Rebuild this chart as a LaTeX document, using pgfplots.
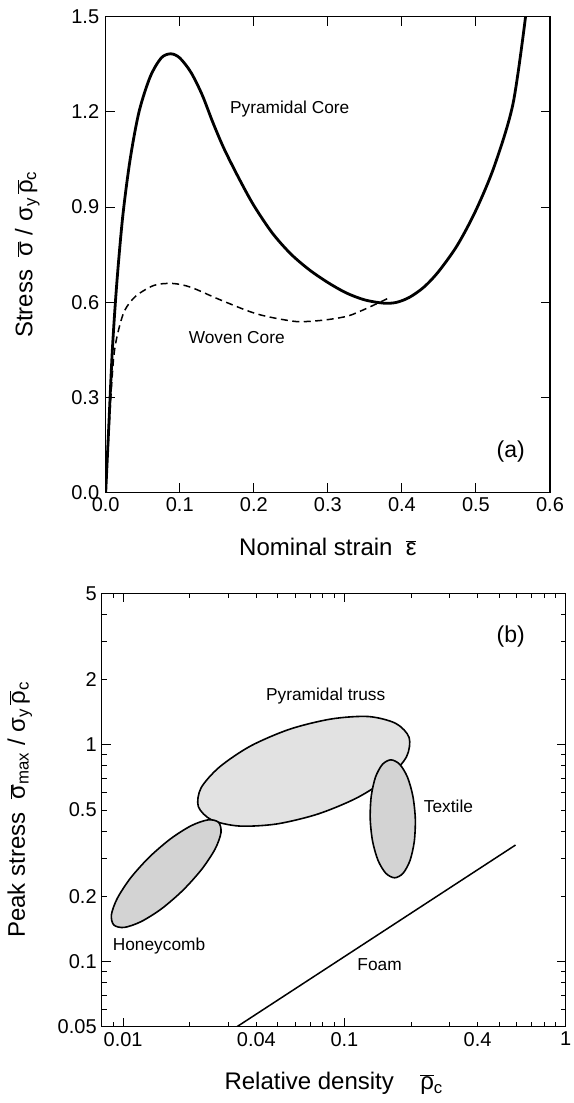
\documentclass[border=0pt]{standalone}
\usepackage{fontspec}
\setmainfont{Liberation Sans}
\usepackage{pgfplots}
\pgfplotsset{compat=1.18}

\definecolor{trussfill}{HTML}{E2E2E2}
\definecolor{cellfill}{HTML}{D3D3D3}

\newcommand{\ob}[1]{$\overline{\hbox{#1}}$}
\newcommand{\ticksize}{\fontsize{20bp}{24bp}\selectfont}
\newcommand{\labsize}{\fontsize{24bp}{28bp}\selectfont}
\newcommand{\notesize}{\fontsize{17.3bp}{20bp}\selectfont}
\newcommand{\tagsize}{\fontsize{23bp}{27bp}\selectfont}

\pgfplotsset{
  panel/.style={
    scale only axis,
    anchor=south west,
    axis line style={line width=1.2bp},
    every tick/.style={black, line width=1bp},
    major tick length=9bp,
    minor tick length=5bp,
    tick label style={font=\ticksize},
    label style={font=\labsize},
    clip=true,
  },
}

\begin{document}
\begin{tikzpicture}
\path[use as bounding box] (0bp,0bp) rectangle (574bp,1103bp);

% (a) stress-strain response of the two cores
\begin{axis}[
  panel,
  at={(105.7bp,610.5bp)},
  width=444.3bp, height=475.8bp,
  xmin=0, xmax=0.6, ymin=0, ymax=1.5,
  xtick={0,0.1,0.2,0.3,0.4,0.5,0.6},
  xticklabels={0.0,0.1,0.2,0.3,0.4,0.5,0.6},
  ytick={0,0.3,0.6,0.9,1.2,1.5},
  yticklabels={0.0,0.3,0.6,0.9,1.2,1.5},
  xticklabel style={yshift=-2bp},
  yticklabel style={xshift=-3bp},
  xlabel={Nominal strain\hspace{0.55em}\ob{ε}},
  ylabel={Stress\hspace{0.55em}\ob{σ} / σ\textsubscript{y}\,\ob{ρ}\textsubscript{c}},
  xlabel style={at={(axis description cs:0.5,-0.1314)}, anchor=base},
  ylabel style={at={(axis description cs:-0.1648,0.5)}, anchor=base, rotate=0},
]
\addplot[black, line width=2.8bp, smooth, tension=0.5] coordinates {
  (0,0) (0.004,0.20) (0.009,0.45) (0.015,0.66) (0.023,0.87)
  (0.033,1.05) (0.045,1.20) (0.060,1.31) (0.075,1.37) (0.088,1.383)
  (0.100,1.37) (0.115,1.325) (0.130,1.255) (0.145,1.165) (0.160,1.083)
  (0.180,0.990) (0.200,0.905) (0.225,0.818) (0.250,0.752) (0.275,0.702)
  (0.300,0.662) (0.325,0.629) (0.350,0.607) (0.375,0.597) (0.392,0.599)
  (0.410,0.615) (0.430,0.648) (0.450,0.698) (0.475,0.780) (0.500,0.890)
  (0.525,1.030) (0.550,1.225) (0.567,1.5)
};
\addplot[black, line width=1.5bp, smooth, tension=0.5, dash pattern=on 7bp off 4.5bp] coordinates {
  (0,0) (0.0059,0.259) (0.0109,0.428) (0.0168,0.507) (0.0257,0.574)
  (0.0406,0.619) (0.0653,0.653) (0.0901,0.659) (0.115,0.647)
  (0.154,0.608) (0.204,0.563) (0.253,0.540) (0.278,0.540)
  (0.303,0.546) (0.328,0.557) (0.352,0.580) (0.383,0.614)
};
\node[font=\notesize] at (axis cs:0.2485,1.21) {Pyramidal Core};
\node[font=\notesize] at (axis cs:0.177,0.49) {Woven Core};
\node[font=\tagsize] at (axis cs:0.547,0.128) {(a)};
\end{axis}

% (b) peak stress against relative density
\begin{axis}[
  panel,
  at={(101.7bp,76.3bp)},
  width=464bp, height=433.4bp,
  xmode=log, ymode=log,
  xmin=0.008, xmax=1, ymin=0.05, ymax=5,
  xtick={0.01,0.1,1}, xticklabels={0.01,0.1,1},
  extra x ticks={0.04,0.4}, extra x tick labels={0.04,0.4},
  extra x tick style={major tick length=5bp},
  minor xtick={0.009,0.02,0.03,0.05,0.06,0.07,0.08,0.09,0.2,0.3,0.5,0.6,0.7,0.8,0.9},
  ytick={0.1,1}, yticklabels={0.1,1},
  extra y ticks={0.05,0.2,0.5,2,5}, extra y tick labels={0.05,0.2,0.5,2,5},
  extra y tick style={major tick length=5bp},
  minor ytick={0.06,0.07,0.08,0.09,0.3,0.4,0.6,0.7,0.8,0.9,3,4},
  xticklabel style={yshift=-2bp},
  yticklabel style={xshift=-1.5bp},
  xlabel={Relative density\hspace{1.1em}\ob{ρ}\textsubscript{c}},
  ylabel={Peak stress\hspace{0.55em}\ob{σ}\textsubscript{max} / σ\textsubscript{y}\,\ob{ρ}\textsubscript{c}},
  xlabel style={at={(axis description cs:0.5,-0.146)}, anchor=base},
  ylabel style={at={(axis description cs:-0.1653,0.5)}, anchor=base, rotate=0},
]
% pyramidal truss envelope
\addplot[draw=black, line width=1.6bp, fill=trussfill, smooth cycle] coordinates {
  (0.1961,1.080) (0.1908,0.880) (0.1577,0.7047) (0.1141,0.5693)
  (0.0758,0.4788) (0.0493,0.4309) (0.03345,0.4217) (0.02515,0.4497)
  (0.02187,0.5184) (0.02248,0.6314) (0.02721,0.7885) (0.03761,0.9863)
  (0.05659,1.180) (0.0871,1.315) (0.1283,1.350) (0.1706,1.255)
};
% honeycomb envelope
\addplot[draw=black, line width=1.6bp, fill=cellfill, smooth cycle] coordinates {
  (0.02698,0.4387) (0.02768,0.3934) (0.02604,0.3303) (0.02266,0.2664)
  (0.01865,0.2133) (0.01494,0.1753) (0.01205,0.1527) (0.01012,0.1436)
  (0.00908,0.1473) (0.00885,0.1642) (0.00941,0.1956) (0.01080,0.2427)
  (0.01313,0.3031) (0.01640,0.3685) (0.02032,0.4234) (0.02420,0.4502)
};
% textile envelope
\addplot[draw=black, line width=1.6bp, fill=cellfill, smooth cycle] coordinates {
  (0.1623,0.852) (0.1778,0.8124) (0.1927,0.7094) (0.2039,0.5790)
  (0.2091,0.4553) (0.2069,0.3581) (0.1979,0.2922) (0.1841,0.2552)
  (0.1686,0.2433) (0.1539,0.2552) (0.1420,0.2922) (0.1341,0.3581)
  (0.1308,0.4553) (0.1322,0.5790) (0.1382,0.7094) (0.1486,0.8124)
};
% foam
\addplot[black, line width=1.5bp] coordinates {(0.0327,0.05) (0.593,0.3445)};
\node[font=\notesize] at (axis cs:0.0823,1.676) {Pyramidal truss};
\node[font=\notesize] at (axis cs:0.2953,0.5186) {Textile};
\node[font=\notesize] at (axis cs:0.01453,0.1177) {Honeycomb};
\node[font=\notesize] at (axis cs:0.1442,0.0972) {Foam};
\node[font=\tagsize] at (axis cs:0.5645,3.16) {(b)};
\end{axis}
\end{tikzpicture}
\end{document}
